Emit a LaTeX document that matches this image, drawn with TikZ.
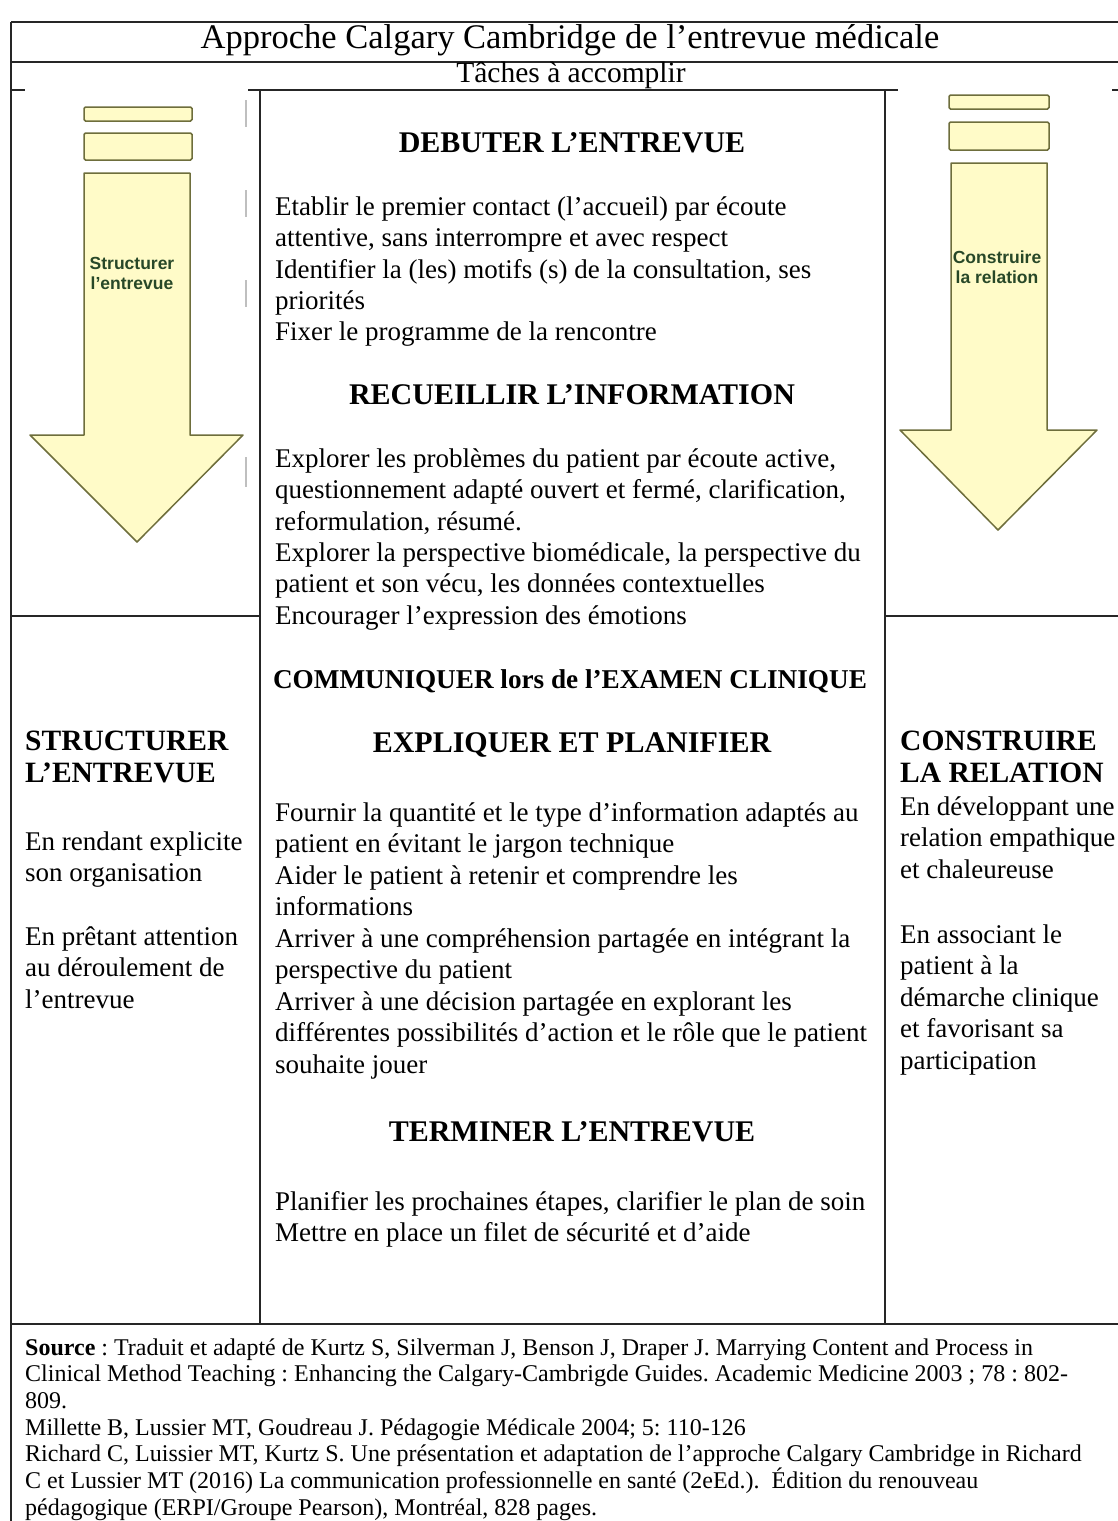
\documentclass[tikz,border=0pt]{standalone}
\usepackage{fontspec}
\setmainfont{Liberation Serif}
\newfontfamily\arrowfont{Liberation Sans}
\definecolor{arrowfill}{RGB}{255,251,200}
\definecolor{arrowline}{RGB}{110,110,60}
\definecolor{arrowtext}{RGB}{40,72,40}
\frenchspacing
\begin{document}
\begin{tikzpicture}[x=1pt,y=-1pt,
  rule/.style={line width=1.8pt, black!85},
  faint/.style={line width=1.2pt, black!25},
  body/.style={font=\fontsize{27}{31}\selectfont, inner sep=0pt, anchor=base west},
  head/.style={font=\fontsize{30}{34}\selectfont\bfseries, inner sep=0pt, anchor=base},
  sidehead/.style={font=\fontsize{29.5}{33}\selectfont\bfseries, inner sep=0pt, anchor=base west},
  src/.style={font=\fontsize{24}{26.7}\selectfont, inner sep=0pt, anchor=base west},
  arrowshape/.style={fill=arrowfill, draw=arrowline, line width=1.5pt, line join=round},
  bar/.style={fill=arrowfill, draw=arrowline, line width=1.5pt, rounded corners=1.5pt},
  arrowlabel/.style={font=\arrowfont\fontsize{17.5}{20}\selectfont\bfseries, text=arrowtext, align=center, inner sep=0pt}
]
\useasboundingbox (0,0) rectangle (1118,1521);
\fill[white] (0,0) rectangle (1118,1521);

% frame and table rules
\draw[rule] (11,22) -- (1118,22);
\draw[rule] (11,22) -- (11,1521);
\draw[rule] (11,62) -- (1118,62);
\draw[rule] (11,90) -- (25,90);
\draw[rule] (248,90) -- (898,90);
\draw[rule] (1112,90) -- (1118,90);
\draw[rule] (260,90) -- (260,1324);
\draw[rule] (885,90) -- (885,1324);
\draw[rule] (11,616) -- (260,616);
\draw[rule] (885,616) -- (1118,616);
\draw[rule] (11,1324) -- (1118,1324);

% faint marks
\draw[faint] (246,100) -- (246,127);
\draw[faint] (246,190) -- (246,217);
\draw[faint] (246,280) -- (246,307);
\draw[faint] (246,457) -- (246,487);

% left arrow
\draw[bar] (84,107) rectangle (192,121);
\draw[bar] (84,133) rectangle (192,160);
\draw[arrowshape] (84,173) -- (190,173) -- (190,435) -- (243,435) -- (137,542) -- (30,435) -- (84,435) -- cycle;
\node[arrowlabel] (la) at (132,273) {Structurer\\l’entrevue};

% right arrow
\draw[bar] (949,95) rectangle (1049,109);
\draw[bar] (949,122) rectangle (1049,150);
\draw[arrowshape] (951,163) -- (1047,163) -- (1047,430) -- (1097,430) -- (998,530) -- (900,430) -- (951,430) -- cycle;
\node[arrowlabel] (ra) at (997,267) {Construire\\la relation};

% title
\node[font=\fontsize{34.5}{39}\selectfont, inner sep=0pt, anchor=base] (title) at (570,48) {Approche Calgary Cambridge de l’entrevue médicale};
\node[font=\fontsize{29.5}{33}\selectfont, inner sep=0pt, anchor=base] (taches) at (571,82) {Tâches à accomplir};

% centre column
\node[head] (h1) at (572,152) {DEBUTER L’ENTREVUE};
\node[body] (c1) at (275,215) {Etablir le premier contact (l’accueil) par écoute};
\node[body] (c2) at (275,246.5) {attentive, sans interrompre et avec respect};
\node[body] (c3) at (275,278) {Identifier la (les) motifs (s) de la consultation, ses};
\node[body] (c4) at (275,309) {priorités};
\node[body] (c5) at (275,340.5) {Fixer le programme de la rencontre};

\node[head] (h2) at (572,404) {RECUEILLIR L’INFORMATION};
\node[body] (c6) at (275,467) {Explorer les problèmes du patient par écoute active,};
\node[body] (c7) at (275,498.5) {questionnement adapté ouvert et fermé, clarification,};
\node[body] (c8) at (275,530) {reformulation, résumé.};
\node[body] (c9) at (275,561) {Explorer la perspective biomédicale, la perspective du};
\node[body] (c10) at (275,592.5) {patient et son vécu, les données contextuelles};
\node[body] (c11) at (275,624) {Encourager l’expression des émotions};

\node[head, font=\fontsize{27.2}{31}\selectfont\bfseries] (h3) at (570,688) {COMMUNIQUER lors de l’EXAMEN CLINIQUE};
\node[head] (h4) at (572,752) {EXPLIQUER ET PLANIFIER};
\node[body] (c12) at (275,821) {Fournir la quantité et le type d’information adaptés au};
\node[body] (c13) at (275,852.5) {patient en évitant le jargon technique};
\node[body] (c14) at (275,884) {Aider le patient à retenir et comprendre les};
\node[body] (c15) at (275,915.5) {informations};
\node[body] (c16) at (275,947) {Arriver à une compréhension partagée en intégrant la};
\node[body] (c17) at (275,978.5) {perspective du patient};
\node[body] (c18) at (275,1010) {Arriver à une décision partagée en explorant les};
\node[body] (c19) at (275,1041.5) {différentes possibilités d’action et le rôle que le patient};
\node[body] (c20) at (275,1073) {souhaite jouer};

\node[head] (h5) at (572,1141) {TERMINER L’ENTREVUE};
\node[body] (c21) at (275,1210) {Planifier les prochaines étapes, clarifier le plan de soin};
\node[body] (c22) at (275,1241.5) {Mettre en place un filet de sécurité et d’aide};

% left column
\node[sidehead] (lh1) at (25,750) {STRUCTURER};
\node[sidehead] (lh2) at (25,782) {L’ENTREVUE};
\node[body] (l1) at (25,850) {En rendant explicite};
\node[body] (l2) at (25,881.5) {son organisation};
\node[body] (l3) at (25,945) {En prêtant attention};
\node[body] (l4) at (25,976.5) {au déroulement de};
\node[body] (l5) at (25,1008) {l’entrevue};

% right column
\node[sidehead] (rh1) at (900,750) {CONSTRUIRE};
\node[sidehead] (rh2) at (900,782) {LA RELATION};
\node[body] (r1) at (900,815) {En développant une};
\node[body] (r2) at (900,846.5) {relation empathique};
\node[body] (r3) at (900,878) {et chaleureuse};
\node[body] (r4) at (900,943) {En associant le};
\node[body] (r5) at (900,974.5) {patient à la};
\node[body] (r6) at (900,1006) {démarche clinique};
\node[body] (r7) at (900,1037.5) {et favorisant sa};
\node[body] (r8) at (900,1069) {participation};

% source
\node[src] (s1) at (25,1355) {\textbf{Source} : Traduit et adapté de Kurtz S, Silverman J, Benson J, Draper J. Marrying Content and Process in};
\node[src] (s2) at (25,1381.7) {Clinical Method Teaching : Enhancing the Calgary-Cambrigde Guides. Academic Medicine 2003 ; 78 : 802-};
\node[src] (s3) at (25,1408.4) {809.};
\node[src] (s4) at (25,1435.1) {Millette B, Lussier MT, Goudreau J. Pédagogie Médicale 2004; 5: 110-126};
\node[src] (s5) at (25,1461.8) {Richard C, Luissier MT, Kurtz S. Une présentation et adaptation de l’approche Calgary Cambridge in Richard};
\node[src] (s6) at (25,1488.5) {C et Lussier MT (2016) La communication professionnelle en santé (2eEd.).\ \ Édition du renouveau};
\node[src] (s7) at (25,1515.2) {pédagogique (ERPI/Groupe Pearson), Montréal, 828 pages.};
\end{tikzpicture}
\end{document}
